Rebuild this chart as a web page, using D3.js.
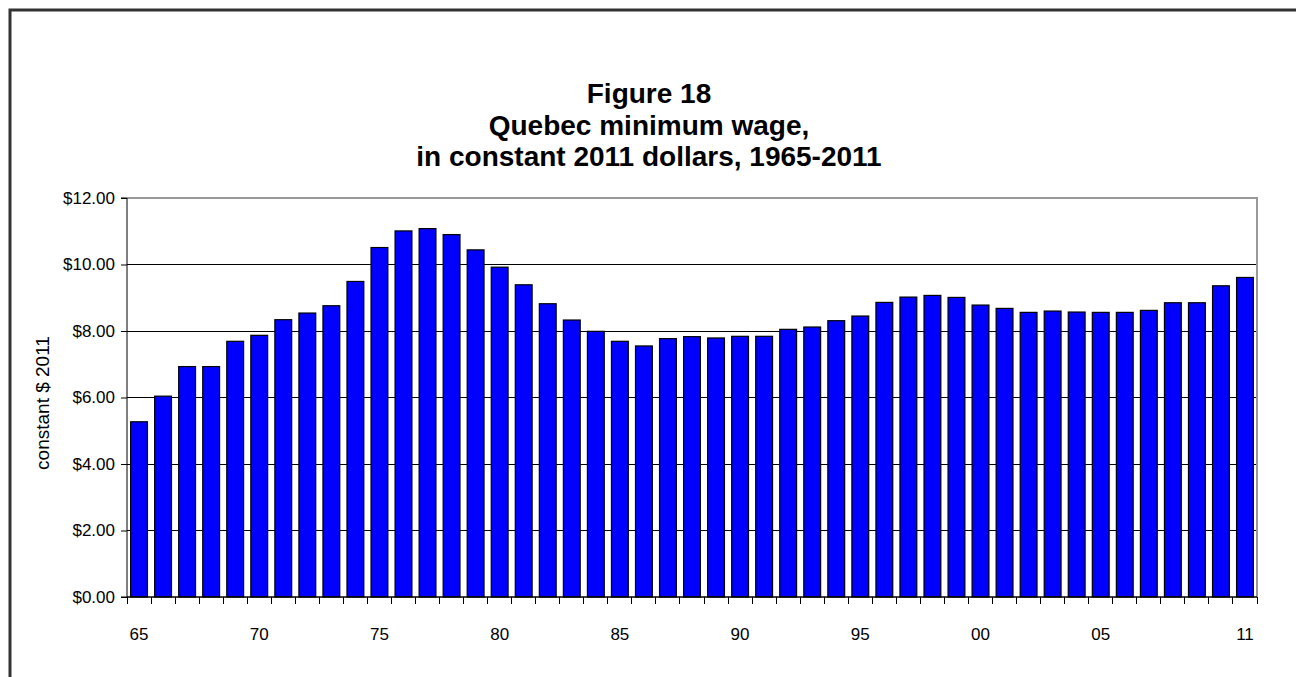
<!DOCTYPE html>
<html><head><meta charset="utf-8">
<script src="https://cdn.jsdelivr.net/npm/d3@7/dist/d3.min.js"></script>
<style>
html,body{margin:0;padding:0;background:#fff;}
text{font-family:"Liberation Sans",Arial,sans-serif;}
</style></head>
<body>
<svg id="chart" width="1296" height="677"></svg>
<script>
const years = d3.range(1965, 2012);
const wages = [5.27, 6.04, 6.93, 6.93, 7.69, 7.87, 8.34, 8.54, 8.76, 9.49,
  10.51, 11.01, 11.08, 10.90, 10.44, 9.92, 9.39, 8.82, 8.33, 7.99,
  7.69, 7.55, 7.77, 7.83, 7.79, 7.84, 7.84, 8.05, 8.12, 8.31,
  8.45, 8.86, 9.02, 9.07, 9.01, 8.78, 8.68, 8.56, 8.60, 8.57,
  8.56, 8.56, 8.62, 8.85, 8.85, 9.36, 9.61];
const yTicks = [0, 2, 4, 6, 8, 10, 12];
const xLabelYears = [1965, 1970, 1975, 1980, 1985, 1990, 1995, 2000, 2005, 2011];
const titleLines = ["Figure 18", "Quebec minimum wage,", "in constant 2011 dollars, 1965-2011"];
const yAxisTitle = "constant $ 2011";

const svg = d3.select("#chart");
const m = {left:127, right:1257, top:198, bottom:597};

// outer frame
svg.append("path").attr("d", "M10,677 L10,10 L1296,10")
  .attr("fill","none").attr("stroke","#333").attr("stroke-width",3);

const x = d3.scaleBand().domain(years).range([m.left, m.right]).paddingInner(0.3).paddingOuter(0.15);
const y = d3.scaleLinear().domain([0,12]).range([m.bottom, m.top]);

// title
svg.append("g").selectAll("text").data(titleLines).join("text")
  .attr("x", 649).attr("y", (d,i)=>103 + i*31.5)
  .attr("text-anchor","middle").attr("font-size", 28).attr("font-weight","bold")
  .text(d=>d);

// gridlines
svg.append("g").selectAll("line").data(yTicks.filter(t=>t>0 && t<12)).join("line")
  .attr("x1", m.left).attr("x2", m.right)
  .attr("y1", d=>y(d)).attr("y2", d=>y(d))
  .attr("stroke","#000").attr("stroke-width",1).attr("shape-rendering","crispEdges");
// plot border top/right gray
svg.append("path").attr("d", `M${m.left},${y(12)} L${m.right},${y(12)} L${m.right},${y(0)}`)
  .attr("fill","none").attr("stroke","#999").attr("stroke-width",2).attr("shape-rendering","crispEdges");

// bars
svg.append("g").selectAll("rect").data(years).join("rect")
  .attr("x", d=>x(d)).attr("width", x.bandwidth())
  .attr("y", (d,i)=>y(wages[i])).attr("height", (d,i)=>y(0)-y(wages[i]))
  .attr("fill","#0000ff").attr("stroke","#000").attr("stroke-width",1.2);

// y axis
const yAxis = d3.axisLeft(y).tickValues(yTicks).tickSize(6).tickPadding(6)
  .tickFormat(d=>"$"+d3.format(".2f")(d));
const gy = svg.append("g").attr("transform", `translate(${m.left},0)`).call(yAxis);
gy.select(".domain").attr("stroke","#000").attr("d", `M-6,${y(12)}H0V${y(0)}H-6`);
gy.selectAll(".tick line").attr("stroke","#000");
gy.selectAll("text").attr("font-size",17).attr("fill","#000")
  .attr("font-family",'"Liberation Sans",Arial,sans-serif');

// x axis: ticks at band boundaries
const boundaries = d3.range(years.length+1).map(i=>m.left + i*(m.right-m.left)/years.length);
svg.append("line").attr("x1",m.left).attr("x2",m.right).attr("y1",y(0)).attr("y2",y(0))
  .attr("stroke","#000").attr("stroke-width",1.5);
svg.append("g").selectAll("line").data(boundaries).join("line")
  .attr("x1",d=>d).attr("x2",d=>d).attr("y1",y(0)).attr("y2",y(0)+7)
  .attr("stroke","#000").attr("shape-rendering","crispEdges");
svg.append("g").selectAll("text").data(xLabelYears).join("text")
  .attr("x", d=>x(d)+x.bandwidth()/2).attr("y", 640)
  .attr("text-anchor","middle").attr("font-size",17)
  .text(d=>String(d%100).padStart(2,"0"));

// y axis title
svg.append("text").attr("transform","translate(49,403) rotate(-90)")
  .attr("text-anchor","middle").attr("font-size",19).text(yAxisTitle);
</script>
</body></html>
